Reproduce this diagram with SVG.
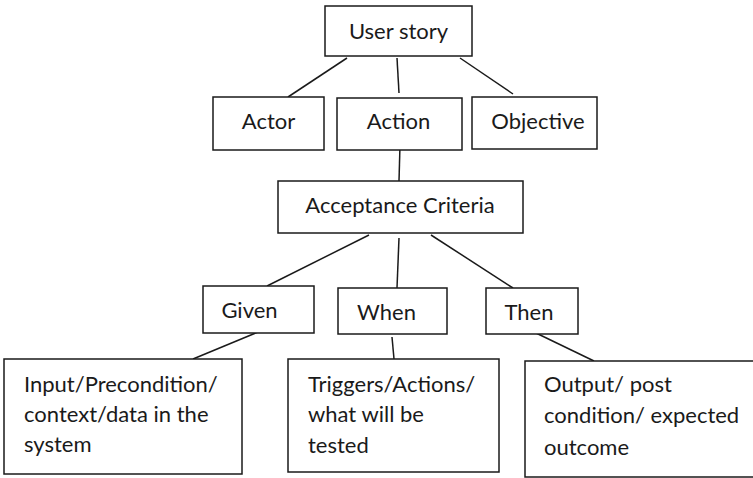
<svg xmlns="http://www.w3.org/2000/svg" width="753" height="478" viewBox="0 0 753 478">
  <style>
    .box { fill: #ffffff; stroke: #1a1a1a; stroke-width: 1.5; }
    .lbl { font-family: Lato, "Open Sans", "Liberation Sans", sans-serif; font-size: 22px; fill: #1a1a1a; }
    .edge { stroke: #1a1a1a; stroke-width: 1.5; fill: none; }
  </style>
  <rect width="753" height="478" fill="#ffffff"/>

  <!-- connectors -->
  <g id="connectors">
    <line class="edge" x1="347" y1="58" x2="288" y2="97"/>
    <line class="edge" x1="397" y1="58" x2="399" y2="93"/>
    <line class="edge" x1="460" y1="58" x2="513" y2="94"/>
    <line class="edge" x1="400" y1="145" x2="399" y2="181"/>
    <line class="edge" x1="369" y1="235" x2="267" y2="286"/>
    <line class="edge" x1="399" y1="238" x2="397" y2="288"/>
    <line class="edge" x1="431" y1="235" x2="513" y2="288"/>
    <line class="edge" x1="258" y1="332" x2="193" y2="359"/>
    <line class="edge" x1="392" y1="337" x2="394" y2="359"/>
    <line class="edge" x1="536" y1="333" x2="594" y2="361"/>
  </g>

  <g id="user-story">
    <rect class="box" x="325" y="6" width="147" height="50"/>
    <text class="lbl" x="398.5" y="39" text-anchor="middle">User story</text>
  </g>
  <g id="actor">
    <rect class="box" x="213" y="97" width="111" height="53"/>
    <text class="lbl" x="268.5" y="129" text-anchor="middle">Actor</text>
  </g>
  <g id="action">
    <rect class="box" x="337" y="98" width="125" height="52"/>
    <text class="lbl" x="398.5" y="129" text-anchor="middle">Action</text>
  </g>
  <g id="objective">
    <rect class="box" x="472" y="97" width="125" height="52"/>
    <text class="lbl" x="538" y="129" text-anchor="middle">Objective</text>
  </g>
  <g id="acceptance-criteria">
    <rect class="box" x="278" y="181" width="245" height="52"/>
    <text class="lbl" x="400" y="213" text-anchor="middle">Acceptance Criteria</text>
  </g>
  <g id="given">
    <rect class="box" x="203" y="286" width="111" height="47"/>
    <text class="lbl" x="249.5" y="318" text-anchor="middle">Given</text>
  </g>
  <g id="when">
    <rect class="box" x="338" y="288" width="109" height="46"/>
    <text class="lbl" x="386.5" y="320" text-anchor="middle">When</text>
  </g>
  <g id="then">
    <rect class="box" x="486" y="288" width="92" height="46"/>
    <text class="lbl" x="529" y="320" text-anchor="middle">Then</text>
  </g>
  <g id="given-detail">
    <rect class="box" x="4" y="359" width="238" height="115"/>
    <text class="lbl" x="24" y="392">Input/Precondition/</text>
    <text class="lbl" x="24" y="422">context/data in the</text>
    <text class="lbl" x="24" y="452">system</text>
  </g>
  <g id="when-detail">
    <rect class="box" x="288" y="359" width="211" height="113"/>
    <text class="lbl" x="308" y="392">Triggers/Actions/</text>
    <text class="lbl" x="308" y="422">what will be</text>
    <text class="lbl" x="308" y="453">tested</text>
  </g>
  <g id="then-detail">
    <rect class="box" x="525" y="361" width="240" height="116"/>
    <text class="lbl" x="544" y="392">Output/ post</text>
    <text class="lbl" x="544" y="423">condition/ expected</text>
    <text class="lbl" x="544" y="455">outcome</text>
  </g>
</svg>
